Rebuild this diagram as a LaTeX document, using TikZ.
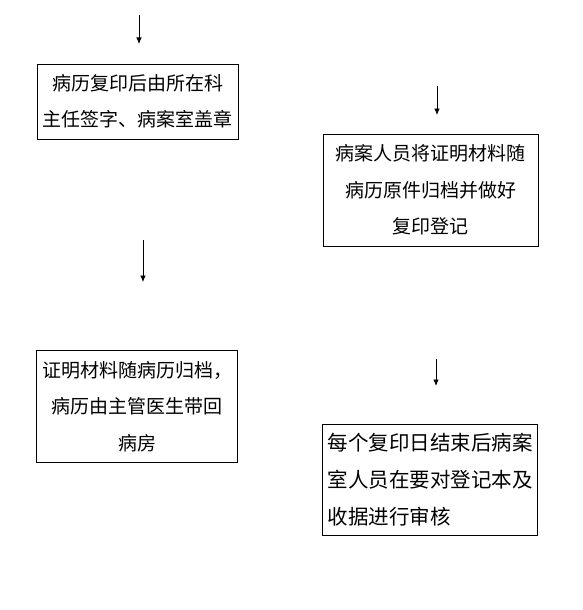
\documentclass[tikz,border=0pt]{standalone}
\usepackage{fontspec}
\newfontfamily\cjk{Noto Sans CJK SC}
\usetikzlibrary{arrows.meta}

\begin{document}
\begin{tikzpicture}[x=1pt,y=-1pt]
  \tikzset{step box/.style = {shape=rectangle,draw,line width=0.8pt,inner sep=0pt,
      font=\cjk\fontsize{19}{36.5}\selectfont,align=center}}
  \tikzset{edge/.style = {->,> = {Latex[length=6.5pt,width=5.5pt]},line width=0.8pt}}

  \useasboundingbox (0,0) rectangle (582,610);

  \node[step box, minimum width=201, minimum height=75] (copy) at (137.5,101.5)
    {病历复印后由所在科\\主任签字、病案室盖章};
  \node[step box, minimum width=215, minimum height=112] (file) at (430.5,190)
    {病案人员将证明材料随\\病历原件归档并做好\\复印登记};
  \node[step box, minimum width=201, minimum height=112] (ward) at (137.2,406.3)
    {证明材料随病历归档，\\病历由主管医生带回\\病房};
  \node[step box, minimum width=215, minimum height=111, align=left,
        text width=205, font=\cjk\fontsize{20.5}{37}\selectfont] (check) at (430,479.5)
    {每个复印日结束后病案\\室人员在要对登记本及\\收据进行审核};

  \coordinate (a1) at (139,15);  \coordinate (b1) at (139,44);
  \coordinate (a2) at (437,86);  \coordinate (b2) at (437,115);
  \coordinate (a3) at (143,240); \coordinate (b3) at (143,282);
  \coordinate (a4) at (436,359); \coordinate (b4) at (436,386);

  \draw[edge] (a1) to (b1);
  \draw[edge] (a2) to (b2);
  \draw[edge] (a3) to (b3);
  \draw[edge] (a4) to (b4);
\end{tikzpicture}
\end{document}
